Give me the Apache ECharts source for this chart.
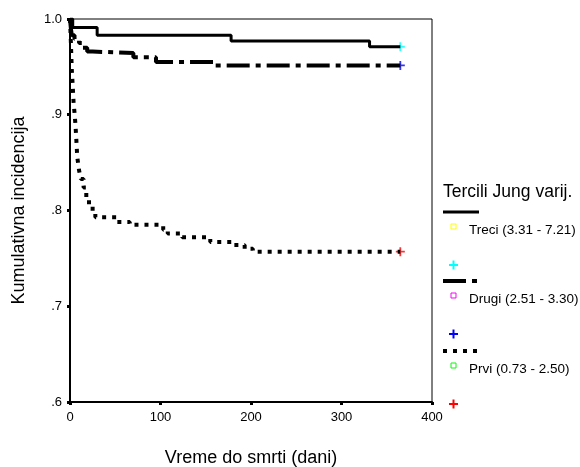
<!DOCTYPE html>
<html>
<head>
<meta charset="utf-8">
<script src="https://cdn.jsdelivr.net/npm/echarts@6/dist/echarts.min.js"></script>
<style>
  html, body { margin: 0; padding: 0; background: #fff; }
  #chart { width: 580px; height: 467px; }
</style>
</head>
<body>
<div id="chart"></div>
<script>
  // dani / kumulativna incidencija, ocitano sa slike
  const treciDays = [0, 3, 30, 178, 331, 365];
  const treciVals = [1.0, 0.991, 0.983, 0.977, 0.971, 0.971];

  const drugiDays = [0, 1, 2, 5, 10, 14, 19, 25, 70, 95, 160, 365];
  const drugiVals = [1.0, 0.99, 0.983, 0.979, 0.975, 0.97, 0.966, 0.9645, 0.96, 0.955, 0.9515, 0.9515];

  const prviDays = [0, 1, 2, 3, 4, 5, 6, 7, 8, 10, 12, 15, 18, 21, 25, 28, 52, 66, 103, 108, 124, 155, 180, 193, 202, 365];
  const prviVals = [1.0, 0.975, 0.947, 0.93, 0.912, 0.902, 0.89, 0.874, 0.856, 0.842, 0.833, 0.824, 0.811, 0.804, 0.797, 0.793,
                    0.788, 0.785, 0.78, 0.776, 0.772, 0.767, 0.764, 0.76, 0.757, 0.757];

  const censorDay = 365;
  const yTicks = ['1.0', '.9', '.8', '.7', '.6'];
  const groupNames = ['Treci (3.31 - 7.21)', 'Drugi (2.51 - 3.30)', 'Prvi (0.73 - 2.50)'];

  const font = 'Liberation Sans, Arial, sans-serif';
  const plus = 'path://M4,0 L6,0 L6,4 L10,4 L10,6 L6,6 L6,10 L4,10 L4,6 L0,6 L0,4 L4,4 Z';

  function pairs(xs, ys) {
    return xs.map((x, i) => [x, ys[i]]);
  }

  function curve(name, days, vals, width, dash) {
    return {
      name: name,
      type: 'line',
      step: 'end',
      showSymbol: false,
      animation: false,
      lineStyle: { color: '#000', width: width, type: dash, cap: 'butt' },
      data: pairs(days, vals)
    };
  }

  function censor(vals, color) {
    return {
      type: 'scatter',
      symbol: plus,
      symbolSize: 9,
      animation: false,
      itemStyle: { color: color },
      data: [[censorDay, vals[vals.length - 1]]]
    };
  }

  // legenda crtana rucno, kao u SPSS-u
  function legendGraphics() {
    const g = [];
    const x0 = 443;
    g.push({
      type: 'text', x: x0, y: 192,
      style: { text: 'Tercili Jung varij.', font: '17.5px ' + font, fill: '#000', textVerticalAlign: 'middle' }
    });
    const rows = [
      { y: 212, dash: null, w: 3, sq: '#ffff00', pc: '#00ffff' },
      { y: 281, dash: [23, 6, 5, 6], w: 4, sq: '#ff00ff', pc: '#0000ff' },
      { y: 351, dash: [4, 6], w: 4, sq: '#00ff00', pc: '#ff0000' }
    ];
    rows.forEach((r, i) => {
      g.push({
        type: 'line',
        shape: { x1: x0, y1: r.y, x2: x0 + 36, y2: r.y },
        style: { stroke: '#000', lineWidth: r.w, lineDash: r.dash }
      });
      g.push({
        type: 'rect',
        shape: { x: 451, y: r.y + 12, width: 5, height: 5 },
        style: { fill: 'none', stroke: r.sq, lineWidth: 1 }
      });
      g.push({
        type: 'text', x: 469, y: r.y + 18,
        style: { text: groupNames[i], font: '13.5px ' + font, fill: '#000', textVerticalAlign: 'middle' }
      });
      // plus znak
      g.push({
        type: 'rect', shape: { x: 449, y: r.y + 52, width: 9, height: 2 }, style: { fill: r.pc }
      });
      g.push({
        type: 'rect', shape: { x: 452.5, y: r.y + 48.5, width: 2, height: 9 }, style: { fill: r.pc }
      });
    });
    return g;
  }

  const chart = echarts.init(document.getElementById('chart'), null, { renderer: 'canvas' });
  chart.setOption({
    backgroundColor: '#fff',
    grid: {
      left: 70, right: 148, top: 19, bottom: 65,
      containLabel: false,
      outerBoundsMode: 'none',
      show: true, borderColor: '#000', borderWidth: 1, backgroundColor: 'transparent'
    },
    xAxis: {
      type: 'value',
      min: 0, max: 400, interval: 100,
      name: 'Vreme do smrti (dani)',
      nameLocation: 'middle',
      nameGap: 47,
      nameTextStyle: { fontFamily: font, fontSize: 18, color: '#000' },
      axisLine: { lineStyle: { color: '#000', width: 2 } },
      axisTick: { length: 3, lineStyle: { color: '#000', width: 3 } },
      axisLabel: { fontFamily: font, fontSize: 13, color: '#000', margin: 9 },
      splitLine: { show: false }
    },
    yAxis: {
      type: 'value',
      min: 0.6, max: 1.0, interval: 0.1,
      name: 'Kumulativna incidencija',
      nameLocation: 'middle',
      nameGap: 42,
      nameTextStyle: { fontFamily: font, fontSize: 18, color: '#000' },
      axisLine: { lineStyle: { color: '#000', width: 2 } },
      axisTick: { length: 3, lineStyle: { color: '#000', width: 3 } },
      axisLabel: {
        fontFamily: font, fontSize: 13, color: '#000', margin: 8,
        formatter: v => yTicks[Math.round((1.0 - v) * 10)]
      },
      splitLine: { show: false }
    },
    series: [
      curve(groupNames[0], treciDays, treciVals, 3, 'solid'),
      curve(groupNames[1], drugiDays, drugiVals, 4, [23, 6, 5, 6]),
      curve(groupNames[2], prviDays, prviVals, 4, [4, 6]),
      censor(treciVals, '#00ffff'),
      censor(drugiVals, '#0000ff'),
      censor(prviVals, '#ff0000')
    ],
    graphic: legendGraphics()
  });
</script>
</body>
</html>
